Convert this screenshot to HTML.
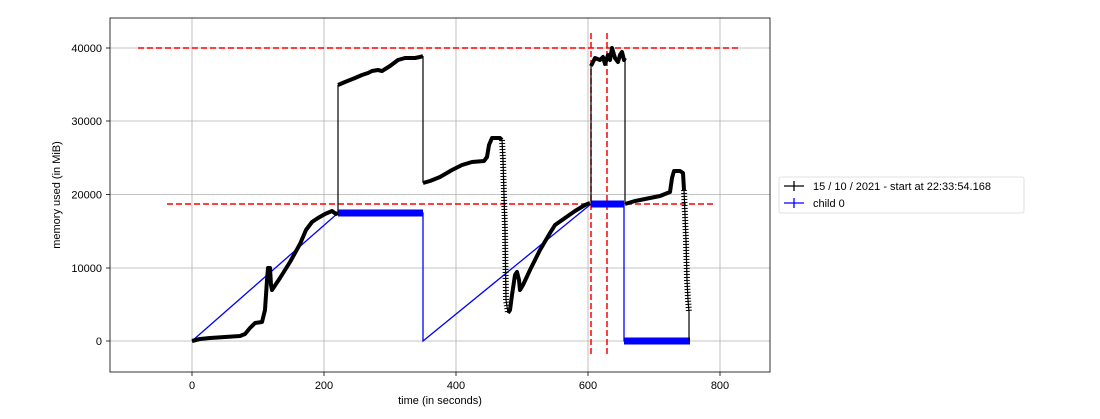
<!DOCTYPE html>
<html><head><meta charset="utf-8"><style>
html,body{margin:0;padding:0;background:#fff;}
svg{display:block;font-family:"Liberation Sans","DejaVu Sans",sans-serif;}
</style></head><body>
<svg width="1100" height="419" viewBox="0 0 1100 419" xmlns="http://www.w3.org/2000/svg">
<rect width="1100" height="419" fill="#fff"/>
<!-- grid -->
<g stroke="#b0b0b0" stroke-width="0.8">
<line x1="192" y1="18" x2="192" y2="372"/><line x1="324" y1="18" x2="324" y2="372"/>
<line x1="456" y1="18" x2="456" y2="372"/><line x1="588" y1="18" x2="588" y2="372"/>
<line x1="720" y1="18" x2="720" y2="372"/>
<line x1="110" y1="341" x2="770" y2="341"/><line x1="110" y1="268" x2="770" y2="268"/>
<line x1="110" y1="194.5" x2="770" y2="194.5"/><line x1="110" y1="121" x2="770" y2="121"/>
<line x1="110" y1="48" x2="770" y2="48"/>
</g>
<!-- ticks -->
<g stroke="#000" stroke-width="0.8">
<line x1="192" y1="372" x2="192" y2="376"/><line x1="324" y1="372" x2="324" y2="376"/>
<line x1="456" y1="372" x2="456" y2="376"/><line x1="588" y1="372" x2="588" y2="376"/>
<line x1="720" y1="372" x2="720" y2="376"/>
<line x1="106" y1="341" x2="110" y2="341"/><line x1="106" y1="268" x2="110" y2="268"/>
<line x1="106" y1="194.5" x2="110" y2="194.5"/><line x1="106" y1="121" x2="110" y2="121"/>
<line x1="106" y1="48" x2="110" y2="48"/>
</g>
<g font-size="11" fill="#000">
<g text-anchor="middle">
<text x="192" y="389">0</text><text x="324" y="389">200</text><text x="456" y="389">400</text>
<text x="588" y="389">600</text><text x="720" y="389">800</text>
<text x="440" y="404">time (in seconds)</text>
</g>
<g text-anchor="end">
<text x="102" y="345">0</text><text x="102" y="272">10000</text><text x="102" y="198.5">20000</text>
<text x="102" y="125">30000</text><text x="102" y="52">40000</text>
</g>
<text transform="translate(60,195) rotate(-90)" text-anchor="middle">memory used (in MiB)</text>
</g>
<!-- red dashed -->
<g stroke="#ff0000" stroke-width="1.5" stroke-dasharray="6,3" fill="none">
<line x1="138" y1="48" x2="740" y2="48"/>
<line x1="167" y1="204" x2="713" y2="204"/>
<line x1="591" y1="33" x2="591" y2="356"/>
<line x1="607" y1="33" x2="607" y2="356"/>
</g>
<!-- blue -->
<g stroke="#0000ff" fill="none">
<polyline stroke-width="1.3" points="192,341 338,213 423,213 423,341 591,204 624,204 624,341 690,341"/>
<line x1="338" y1="213" x2="423" y2="213" stroke-width="7"/>
<line x1="591" y1="204" x2="624" y2="204" stroke-width="7"/>
<line x1="624" y1="341" x2="690" y2="341" stroke-width="7"/>
</g>
<!-- black -->
<g stroke="#000" fill="none" stroke-linejoin="round">
<polyline stroke-width="1.2" points="338,213 338,85"/>
<polyline stroke-width="1.2" points="423,56 423,183"/>
<polyline stroke-width="1.2" points="591,203 591,65"/>
<polyline stroke-width="1.2" points="625,58 625,204"/>
<polyline stroke-width="1.2" points="689,312 689,341"/>
<polyline stroke-width="4" points="192,341 200,339 210,338 240,336 245,334 250,328 255,323 262,322 265,310 267,280 268,268 270,268 271,285 272,290 280,278 290,262 300,244 306,230 312,222 318,218 325,214 332,211 336,214 338,213"/>
<polyline stroke-width="4" points="338,85 345,82 355,78 362,75 368,73 372,71 378,70 382,71 390,66 398,60 405,58 415,58 420,57 423,56"/>
<polyline stroke-width="4" points="423,183 430,181 440,177 452,170 462,165 472,162 484,161 487,157 489,145 492,138 500,138 502,140"/>
<polyline stroke-width="1.2" points="502,140 503,160 505,230 506,300 508,313"/>
<polyline stroke-width="6" stroke-dasharray="1,2" points="502,140 503,160 505,230 506,300 508,313"/>
<polyline stroke-width="4" points="508,313 510,310 512,295 515,275 517,272 519,280 520,290 523,285 530,270 540,250 550,233 555,225 565,218 575,211 585,205 590,203"/>
<polyline stroke-width="4" points="591,66 595,58 600,60 603,57 605,64 608,55 610,60 612,48 615,58 618,62 620,55 622,52 624,60 625,58"/>
<polyline stroke-width="4" points="625,204 635,201 650,198 660,196 670,192 672,178 674,171 680,171 683,173 684,190"/>
<polyline stroke-width="1.2" points="684,190 686,240 687,280 688,300 689,312"/>
<polyline stroke-width="6" stroke-dasharray="1,2" points="684,190 686,240 687,280 688,300 689,312"/>
</g>
<!-- axes frame -->
<rect x="110" y="18" width="660" height="354" fill="none" stroke="#000" stroke-width="0.8"/>
<!-- legend -->
<rect x="779" y="177" width="245" height="36" rx="2" fill="#fff" stroke="#d8d8d8" stroke-width="0.8"/>
<line x1="784" y1="186" x2="804" y2="186" stroke="#000" stroke-width="1.3"/>
<line x1="794" y1="181" x2="794" y2="191" stroke="#000" stroke-width="1.3"/>
<line x1="784" y1="203" x2="804" y2="203" stroke="#0000ff" stroke-width="1.3"/>
<line x1="794" y1="198" x2="794" y2="208" stroke="#0000ff" stroke-width="1.3"/>
<g font-size="11" fill="#000">
<text x="813" y="190">15 / 10 / 2021 - start at 22:33:54.168</text>
<text x="813" y="207">child 0</text>
</g>
</svg>
</body></html>
